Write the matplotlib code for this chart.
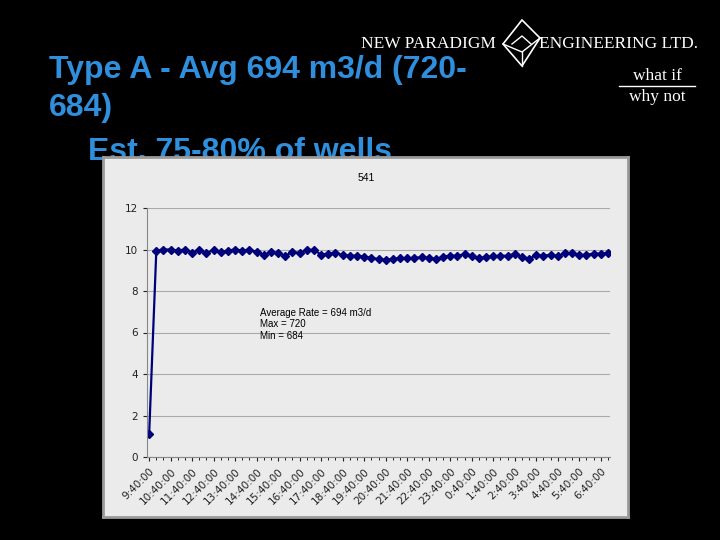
import matplotlib.pyplot as plt
from matplotlib.patches import Polygon
from matplotlib.ticker import FixedLocator, MultipleLocator

hour_labels = ["9:40:00", "10:40:00", "11:40:00", "12:40:00", "13:40:00", "14:40:00",
               "15:40:00", "16:40:00", "17:40:00", "18:40:00", "19:40:00", "20:40:00",
               "21:40:00", "22:40:00", "23:40:00", "0:40:00", "1:40:00", "2:40:00",
               "3:40:00", "4:40:00", "5:40:00", "6:40:00"]
rate = [1.1, 9.95, 10.0, 10.0, 9.95, 10.0, 9.85, 9.98, 9.83, 9.98, 9.88, 9.95, 10.0,
        9.95, 10.0, 9.88, 9.75, 9.87, 9.83, 9.7, 9.88, 9.83, 9.98, 9.98, 9.75, 9.8,
        9.85, 9.73, 9.7, 9.7, 9.65, 9.6, 9.53, 9.5, 9.55, 9.57, 9.57, 9.6, 9.62, 9.6,
        9.53, 9.65, 9.7, 9.7, 9.77, 9.68, 9.58, 9.63, 9.67, 9.7, 9.7, 9.78, 9.65, 9.55,
        9.73, 9.7, 9.75, 9.68, 9.82, 9.82, 9.73, 9.75, 9.8, 9.8, 9.82]

W, H = 720, 540
fig = plt.figure(figsize=(7.2, 5.4), dpi=100)
fig.patch.set_facecolor("black")

def fx(px):
    return px / W

def fy(py):
    return 1 - py / H

# slide title (third line is partly hidden behind the chart)
blue = "#2f8fdc"
tkw = dict(color=blue, fontsize=23, fontweight="bold", family="Liberation Sans",
           va="center", zorder=-1)
fig.text(fx(49), fy(70), "Type A - Avg 694 m3/d (720-", **tkw)
fig.text(fx(49), fy(108), "684)", **tkw)
fig.text(fx(88), fy(152), "Est. 75-80% of wells", **tkw)

# logo
lkw = dict(color="white", fontsize=12.5, family="Liberation Serif", va="center")
fig.text(fx(361), fy(44), "NEW PARADIGM", **lkw)
fig.text(fx(539), fy(44), "ENGINEERING LTD.", **lkw)
fig.text(fx(657), fy(76), "what if", ha="center", **lkw)
fig.text(fx(657), fy(97), "why not", ha="center", **lkw)
lax = fig.add_axes([0, 0, 1, 1], zorder=2)
lax.set_xlim(0, W)
lax.set_ylim(H, 0)
lax.axis("off")
lax.plot([619, 695], [86, 86], color="white", lw=1)
lax.add_patch(Polygon([[522, 20], [540, 38], [522, 66], [503, 44]], closed=True,
                      fill=False, ec="white", lw=1.2))
lax.plot([503, 522, 540], [44, 52, 38], color="white", lw=1)
lax.plot([522, 522], [52, 66], color="white", lw=1)
lax.plot([512, 522, 531], [44, 36, 44], color="white", lw=1)

# chart box
bg = fig.add_axes([fx(103), fy(517), fx(628 - 103), (517 - 157) / H], zorder=5)
bg.set_xticks([])
bg.set_yticks([])
bg.set_facecolor("#ebebeb")
for s in bg.spines.values():
    s.set_color("#9a9a9a")
    s.set_linewidth(2)
fig.text(fx(366), fy(178), "541", fontsize=7.5, ha="center", va="center",
         family="Liberation Sans", zorder=7)

ax = fig.add_axes([fx(147), fy(457), fx(610 - 147), (457 - 208) / H], zorder=6)
ax.set_facecolor("#ebebeb")
x = list(range(len(rate)))
ax.plot(x, rate, color="#00007a", marker="D", markersize=3.6, lw=1.6)
ax.set_xlim(-0.3, len(rate) - 0.7)
ax.set_ylim(0, 12)
ax.set_yticks(range(0, 13, 2))
ax.yaxis.grid(True, color="#aaaaaa", lw=0.8)
ax.set_axisbelow(True)
ax.xaxis.set_major_locator(FixedLocator(range(0, 3 * len(hour_labels), 3)))
ax.set_xticklabels(hour_labels, rotation=45, ha="right", rotation_mode="anchor")
ax.xaxis.set_minor_locator(MultipleLocator(1))
ax.tick_params(labelsize=7.5, colors="#222222", length=3)
ax.tick_params(which="minor", length=2)
for s in ["top", "right"]:
    ax.spines[s].set_visible(False)
for s in ["left", "bottom"]:
    ax.spines[s].set_color("#888888")
ax.text(0.245, 0.6, "Average Rate = 694 m3/d\nMax = 720\nMin = 684",
        transform=ax.transAxes, fontsize=7, va="top", family="Liberation Sans",
        linespacing=1.2)

fig.savefig("out.png", dpi=100, facecolor="black")
